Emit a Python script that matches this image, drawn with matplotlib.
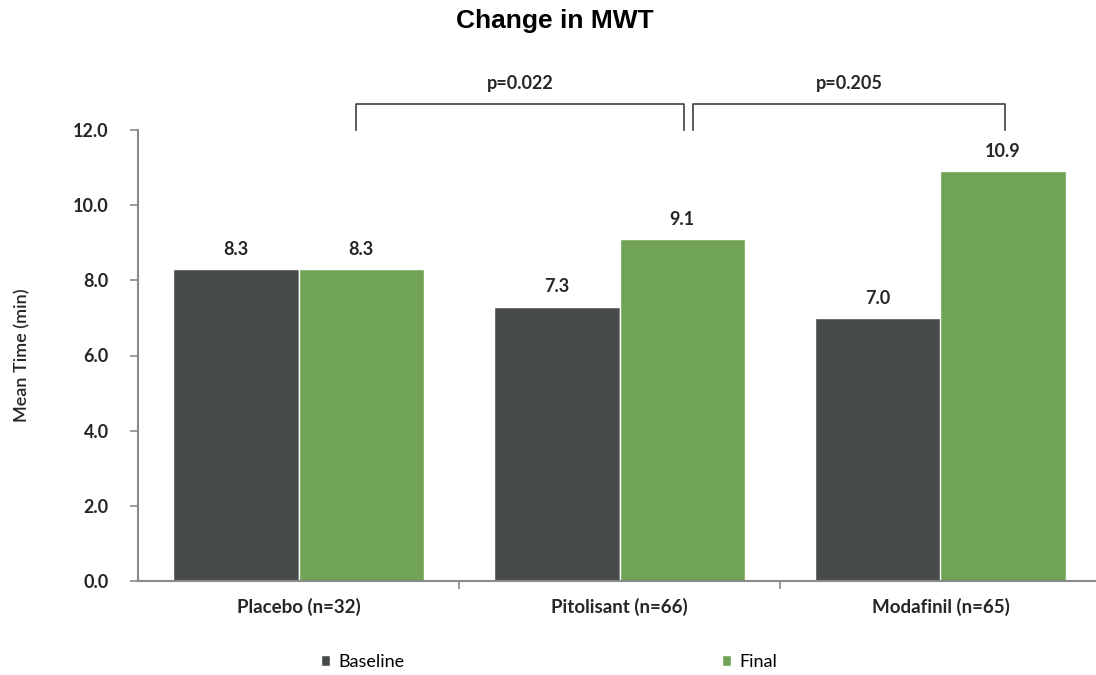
import matplotlib
matplotlib.use('Agg')
import matplotlib.pyplot as plt
import numpy as np

# data
groups = ['Placebo (n=32)', 'Pitolisant (n=66)', 'Modafinil (n=65)']
baseline = [8.3, 7.3, 7.0]
final = [8.3, 9.1, 10.9]
series_names = ['Baseline', 'Final']
p_values = ['p=0.022', 'p=0.205']

DARK = '#474b4c'
GREEN = '#70a355'
AXIS = '#8a8a8a'
TEXT = '#262626'
FONT = 'Lato'

fig = plt.figure(figsize=(10.96, 6.75), dpi=100)
ax = fig.add_axes([138 / 1096, 94 / 675, 963 / 1096, 451 / 675])

x = np.arange(len(groups))
w = 0.39
b1 = ax.bar(x - w / 2, baseline, w, color=DARK, edgecolor='white', linewidth=1, label=series_names[0])
b2 = ax.bar(x + w / 2, final, w, color=GREEN, edgecolor='white', linewidth=1, label=series_names[1])

# value labels above bars
for bars in (b1, b2):
    for r in bars:
        ax.text(r.get_x() + r.get_width() / 2, r.get_height() + 0.3, f'{r.get_height():.1f}',
                ha='center', va='bottom', fontsize=13, fontweight='bold', family=FONT, color=TEXT)

ax.set_xlim(-0.5, 2.5)
ax.set_ylim(0, 12)
ax.set_yticks(np.arange(0, 12.1, 2))
ax.set_yticklabels([f'{v:.1f}' for v in np.arange(0, 12.1, 2)], fontsize=13, fontweight='bold',
                   family=FONT, color=TEXT)
ax.set_xticks(x)
ax.set_xticklabels(groups, fontsize=13.5, fontweight='bold', family=FONT, color=TEXT)
ax.set_xticks([0.5, 1.5], minor=True)
ax.tick_params(axis='x', which='major', length=0, pad=12)
ax.tick_params(axis='x', which='minor', length=6, color=AXIS, width=1.2)
ax.tick_params(axis='y', length=6, color=AXIS, width=1.2, pad=15)

for s in ['top', 'right']:
    ax.spines[s].set_visible(False)
for s in ['left', 'bottom']:
    ax.spines[s].set_color(AXIS)
    ax.spines[s].set_linewidth(1.5)

ax.set_ylabel('Mean Time (min)', fontsize=13, family=FONT, fontweight='semibold', color=TEXT, labelpad=31)

# significance brackets
brackets = [(0.18, 1.2), (1.23, 2.2)]
for (x0, x1), p in zip(brackets, p_values):
    ax.plot([x0, x0, x1, x1], [12.0, 12.69, 12.69, 12.0], color='#404040', lw=1.2, clip_on=False)
    ax.text((x0 + x1) / 2, 13.0, p, ha='center', va='bottom', fontsize=13, fontweight='bold',
            family=FONT, color=TEXT)

fig.suptitle('Change in MWT', x=555 / 1096, y=1 - 9 / 675, va='top', fontsize=19,
             fontweight='bold', family='Liberation Sans')

fig.legend(handles=[b1, b2], labels=series_names, loc='center left', bbox_to_anchor=(305 / 1096, 1 - 662 / 675),
           ncol=2, frameon=False, handlelength=0.5, handleheight=0.5, handletextpad=0.45,
           columnspacing=17.6, prop={'family': FONT, 'size': 13})

fig.savefig('out.png', dpi=100)
